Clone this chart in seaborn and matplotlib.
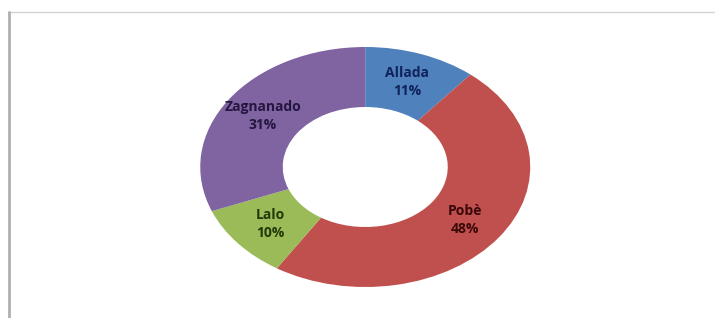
import numpy as np
import seaborn as sns
import matplotlib.pyplot as plt
from matplotlib.lines import Line2D


# Data
NAMES = ["Allada", "Pobè", "Lalo", "Zagnanado"]
SHARES = [11, 48, 10, 31]

COLORS = ["#4F81BD", "#C0504D", "#9BBB59", "#8064A2"]
TEXT_COLORS = ["#10225a", "#3a0808", "#1f3a08", "#24163f"]


sns.set_style("white")
plt.rcParams["font.family"] = ["Open Sans", "DejaVu Sans"]

fig = plt.figure(figsize=(7.15, 3.18), dpi=100)
fig.patch.set_facecolor("white")

# pie axes sized so the ring comes out as an ellipse
ax = fig.add_axes([159 / 715, 1 / 318, 412.5 / 715, 300 / 318])

wedges, texts, autotexts = ax.pie(
    SHARES,
    colors=COLORS,
    startangle=90,
    counterclock=False,
    autopct="%1.0f%%",
    pctdistance=0.75,
    wedgeprops=dict(width=0.5, linewidth=0),
)
ax.set_aspect("auto")
ax.set_xlim(-1.25, 1.25)
ax.set_ylim(-1.25, 1.25)

for t, name, share, tc in zip(autotexts, NAMES, SHARES, TEXT_COLORS):
    t.set_text(f"{name}\n{share}%")
    t.set_color(tc)
    t.set_fontsize(10)
    t.set_fontweight("bold")
    t.set_linespacing(1.35)

# frame lines of the chart area
fig.add_artist(Line2D([8 / 715, 715 / 715], [1 - 12 / 318, 1 - 12 / 318],
                      transform=fig.transFigure, color="#d4d4d4", lw=1))
fig.add_artist(Line2D([9 / 715, 9 / 715], [0, 1 - 12 / 318],
                      transform=fig.transFigure, color="#b0b0b0", lw=2))

fig.savefig("out.png", dpi=100, facecolor="white")
